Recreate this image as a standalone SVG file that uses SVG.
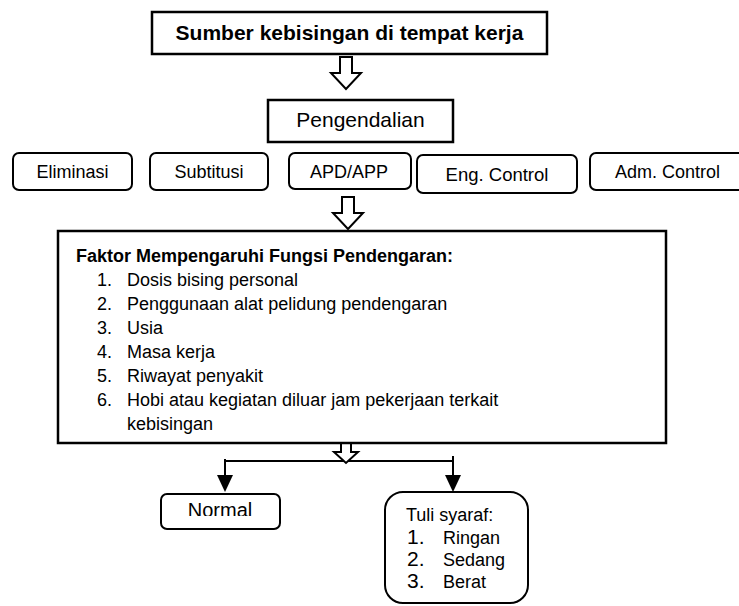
<svg xmlns="http://www.w3.org/2000/svg" width="739" height="606" viewBox="0 0 739 606">
<defs>
<style>
.sq{fill:#fff;stroke:#000;stroke-width:2.5}
.rd{fill:#fff;stroke:#000;stroke-width:2}
.hol{fill:#fff;stroke:#000;stroke-width:2;stroke-linejoin:miter}
.ln{fill:none;stroke:#000;stroke-width:2}
.hd{fill:#000;stroke:none}
text{font-family:"Liberation Sans",Arial,sans-serif;fill:#000}
.b{font-weight:bold}
.c{text-anchor:middle}
</style>
<clipPath id="nclip"><rect x="161" y="494" width="119" height="22"/></clipPath>
</defs>
<rect width="739" height="606" fill="#fff"/>
<g id="connectors">
<path class="hol" d="M340,57 H352 V73 H361 L346,89 L331,73 H340 Z"/>
<path class="hol" d="M342,197 H354 V213 H363 L348,229 L333,213 H342 Z"/>
<line class="ln" x1="225" y1="461" x2="453" y2="461"/>
<line class="ln" x1="225" y1="459" x2="225" y2="478"/>
<polygon class="hd" points="217,475 233,475 225,492"/>
<line class="ln" x1="453" y1="456" x2="453" y2="478"/>
<polygon class="hd" points="445,475 461,475 453,492"/>
<path class="hol" d="M341,442 H351 V452 H358 L346,463 L334,452 H341 Z"/>
</g>
<g id="sumber">
<rect class="sq" x="152" y="12" width="395" height="42"/>
<text class="b c" x="349.5" y="40" font-size="21">Sumber kebisingan di tempat kerja</text>
</g>
<g id="pengendalian">
<rect class="sq" x="268" y="100" width="185" height="42"/>
<text class="c" x="360.5" y="127" font-size="21">Pengendalian</text>
</g>
<g id="eliminasi">
<rect class="rd" x="13" y="153" width="119" height="37" rx="6"/>
<text class="c" x="72.5" y="178" font-size="18">Eliminasi</text>
</g>
<g id="subtitusi">
<rect class="rd" x="150" y="153" width="118" height="37" rx="6"/>
<text class="c" x="209" y="178" font-size="18">Subtitusi</text>
</g>
<g id="apd">
<rect class="rd" x="289" y="153" width="122" height="36" rx="6"/>
<text class="c" x="349" y="178" font-size="18">APD/APP</text>
</g>
<g id="eng">
<rect class="rd" x="417" y="155" width="160" height="38" rx="6"/>
<text class="c" x="497" y="181" font-size="18.5">Eng. Control</text>
</g>
<g id="adm">
<rect class="rd" x="590" y="153" width="160" height="37" rx="6"/>
<text x="615" y="178" font-size="18">Adm. Control</text>
</g>
<g id="faktor">
<rect class="sq" x="58" y="231" width="608" height="212"/>
<text class="b" x="76" y="262" font-size="18">Faktor Mempengaruhi Fungsi Pendengaran:</text>
<text font-size="18">
<tspan x="97" y="286">1.</tspan><tspan x="127" y="286">Dosis bising personal</tspan>
<tspan x="97" y="310">2.</tspan><tspan x="127" y="310">Penggunaan alat pelidung pendengaran</tspan>
<tspan x="97" y="334">3.</tspan><tspan x="127" y="334">Usia</tspan>
<tspan x="97" y="358">4.</tspan><tspan x="127" y="358">Masa kerja</tspan>
<tspan x="97" y="382">5.</tspan><tspan x="127" y="382">Riwayat penyakit</tspan>
<tspan x="97" y="406">6.</tspan><tspan x="127" y="406">Hobi atau kegiatan diluar jam pekerjaan terkait</tspan>
<tspan x="127" y="430">kebisingan</tspan>
</text>
</g>
<g id="normal">
<rect class="rd" x="161" y="494" width="119" height="35" rx="6"/>
<text class="c" x="220" y="517" font-size="20" clip-path="url(#nclip)">Normal</text>
</g>
<g id="tuli">
<rect class="rd" x="385" y="492" width="143" height="111" rx="18"/>
<text x="406" y="521" font-size="18">Tuli syaraf:</text>
<text font-size="21"><tspan x="407" y="544">1.</tspan><tspan x="407" y="566">2.</tspan><tspan x="407" y="588">3.</tspan></text>
<text font-size="18"><tspan x="443" y="544">Ringan</tspan><tspan x="443" y="566">Sedang</tspan><tspan x="443" y="588">Berat</tspan></text>
</g>
</svg>
